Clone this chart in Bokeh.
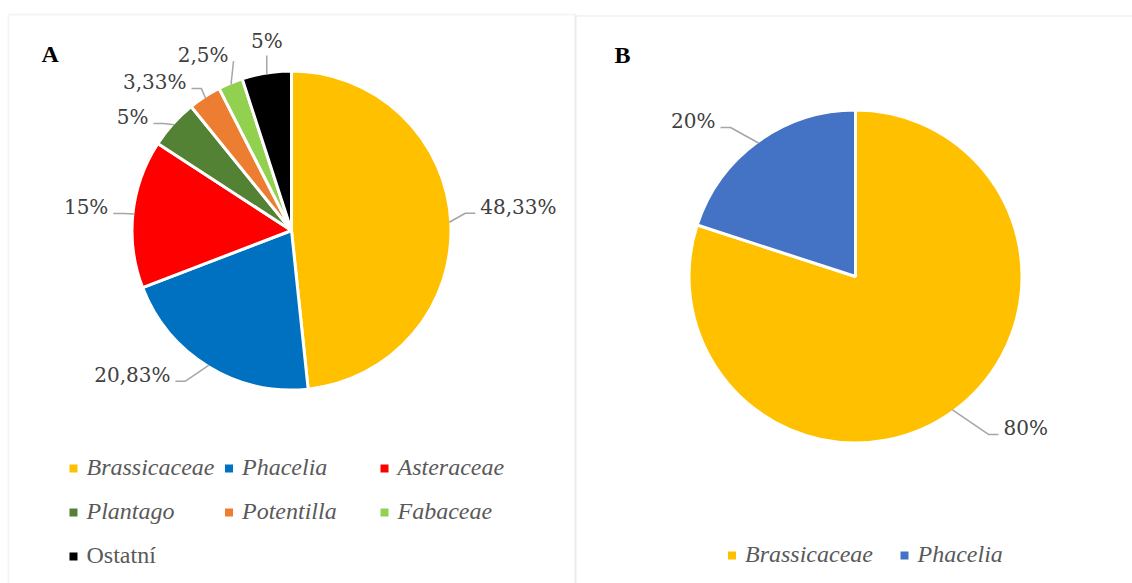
import math

from bokeh.core.properties import value
from bokeh.embed import file_html
from bokeh.models import BoxAnnotation, ColumnDataSource, Range1d
from bokeh.plotting import figure
from bokeh.resources import INLINE

# ---- data -------------------------------------------------------------
cats_a = ["Brassicaceae", "Phacelia", "Asteraceae", "Plantago",
          "Potentilla", "Fabaceae", "Ostatní"]
vals_a = [48.33, 20.83, 15, 5, 3.33, 2.5, 5]
colors_a = ["#FFC000", "#0070C0", "#FF0000", "#548235",
            "#ED7D31", "#92D050", "#000000"]

cats_b = ["Brassicaceae", "Phacelia"]
vals_b = [80, 20]
colors_b = ["#FFC000", "#4472C4"]

# taxa written upright in the legend (everything else is a Latin name, italic)
upright = {"Ostatní"}

# ---- layout (page pixels, y measured downward) ----------------------------
W, H = 1132, 583
LABEL_FONT = value("DejaVu Serif")
LEGEND_FONT = value("Liberation Serif")
LABEL_COLOR = "#404040"
LEGEND_COLOR = "#595959"
LEADER_COLOR = "#A6A6A6"
BORDER_COLOR = "#D9D9D9"

# vertical correction between the requested baseline and where the
# renderer actually puts the glyphs, per font size
LABEL_SHIFT = 7.5
LEGEND_SHIFT = 10

# leader attach point relative to the slice's outer edge, and where the
# label sits relative to that point: L = label to the right, R = label to
# the left, B = label above the leader
layout_a = [(26, -9, "L"), (-33.5, 16, "R"), (-21, -0.5, "R"),
            (-20.6, -1.3, "R"), (-14, -9.4, "R"), (2.5, -23.5, "R"),
            (0, -19, "B")]
layout_b = [(46, 24.5, "L"), (-38, -15.5, "R")]


def pct(v):
    return f"{v:g}".replace(".", ",") + "%"


def Y(row):
    """page pixel row -> data y"""
    return H - row


p = figure(width=W, height=H, x_range=Range1d(0, W), y_range=Range1d(0, H),
           output_backend="svg", toolbar_location=None, min_border=0)
p.axis.visible = False
p.grid.visible = False
p.outline_line_color = None
p.background_fill_color = "white"
p.border_fill_color = "white"

# panel frames
p.add_layout(BoxAnnotation(left=8, right=575, top=Y(14), bottom=-20,
                           fill_alpha=0, line_color=BORDER_COLOR, line_width=2))
p.add_layout(BoxAnnotation(left=575, right=W + 20, top=Y(15.5), bottom=-20,
                           fill_alpha=0, line_color=BORDER_COLOR, line_width=2))


def draw_pie(cx, cy, r, vals, colors, layout):
    total = float(sum(vals))
    starts, ends, mids = [], [], []
    cum = 0.0
    for v in vals:
        f0 = cum / total
        cum += v
        f1 = cum / total
        starts.append(math.pi / 2 - 2 * math.pi * f0)
        ends.append(math.pi / 2 - 2 * math.pi * f1)
        mids.append((f0 + f1) / 2)
    n = len(vals)
    src = ColumnDataSource(dict(x=[cx] * n, y=[Y(cy)] * n,
                                start=starts, end=ends, color=colors))
    p.wedge(x="x", y="y", radius=r + 1.5, start_angle="start",
            end_angle="end", direction="clock", fill_color="color",
            line_color="white", line_width=3, source=src)

    xs, ys = [], []
    for v, m, (dx, dy, mode) in zip(vals, mids, layout):
        ex = cx + r * math.sin(2 * math.pi * m)
        ey = cy - r * math.cos(2 * math.pi * m)
        ax, ay = ex + dx, ey + dy
        px, py = [ex], [ey]
        if mode == "L" and ax - 10 > ex:
            px.append(ax - 10)
            py.append(ay)
        elif mode == "R" and ax + 10 < ex:
            px.append(ax + 10)
            py.append(ay)
        px.append(ax)
        py.append(ay)
        xs.append(px)
        ys.append([Y(q) for q in py])

        if mode == "L":
            tx, ty, align = ax + 5, ay + 1, "left"
        elif mode == "R":
            tx, ty, align = ax - 5, ay + 1, "right"
        else:
            tx, ty, align = ax, ay - 7, "center"
        p.text(x=[tx], y=[Y(ty - LABEL_SHIFT)], text=[pct(v)],
               text_font=LABEL_FONT, text_font_size="20px",
               text_color=LABEL_COLOR, text_align=align,
               text_baseline="alphabetic")
    p.multi_line(xs=xs, ys=ys, line_color=LEADER_COLOR, line_width=1.5)


def draw_legend(cats, colors, col_x, rows_y, ncols):
    for i, (c, col) in enumerate(zip(cats, colors)):
        mx = col_x[i % ncols]
        my = rows_y[i // ncols]
        p.scatter(x=[mx], y=[Y(my)], marker="square", size=8,
                  fill_color=col, line_color=None)
        p.text(x=[mx + 13], y=[Y(my + 8 - LEGEND_SHIFT)], text=[c],
               text_font=LEGEND_FONT, text_font_size="24px",
               text_color=LEGEND_COLOR,
               text_font_style="normal" if c in upright else "italic",
               text_align="left", text_baseline="alphabetic")


# panel A
draw_pie(291, 230, 158, vals_a, colors_a, layout_a)
draw_legend(cats_a, colors_a, [73, 228.5, 384], [468, 512, 556], 3)
p.text(x=[41], y=[Y(63 - LEGEND_SHIFT)], text=["A"],
       text_font=value("Liberation Serif"), text_font_size="24px",
       text_font_style="bold", text_color="black", text_baseline="alphabetic")

# panel B
draw_pie(855, 276, 165, vals_b, colors_b, layout_b)
draw_legend(cats_b, colors_b, [731.5, 904], [555], 2)
p.text(x=[614], y=[Y(64 - LEGEND_SHIFT)], text=["B"],
       text_font=value("Liberation Serif"), text_font_size="24px",
       text_font_style="bold", text_color="black", text_baseline="alphabetic")

open("out.html", "w").write(file_html(p, INLINE))
